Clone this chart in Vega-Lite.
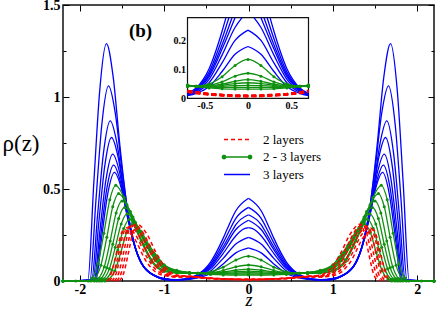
{
"$schema":"https://vega.github.io/schema/vega-lite/v6.json",
"autosize":{"type":"none"},
"padding":{"left":63,"top":5,"right":2,"bottom":29},
"width":371,"height":276,
"background":"white",
"config":{"view":{"stroke":"#111","strokeWidth":1.5},"font":"Liberation Serif","axis":{"grid":false,"domain":false,"tickColor":"black","tickWidth":1,"labelColor":"black","titleColor":"black"}},
"datasets":{
"b":[
{"c":"1L","x":-2.2,"y":0},{"c":"1L","x":-1.905,"y":0.005},{"c":"1L","x":-1.835,"y":0.529},{"c":"1L","x":-1.765,"y":1.032},{"c":"1L","x":-1.685,"y":1.29},{"c":"1L","x":-1.605,"y":1.109},{"c":"1L","x":-1.525,"y":0.735},{"c":"1L","x":-1.435,"y":0.387},{"c":"1L","x":-1.335,"y":0.168},{"c":"1L","x":-1.185,"y":0.052},{"c":"1L","x":-1,"y":0.014},{"c":"1L","x":-0.85,"y":0.007},{"c":"1L","x":-0.7,"y":0.017},{"c":"1L","x":-0.6,"y":0.036},{"c":"1L","x":-0.45,"y":0.103},{"c":"1L","x":-0.3,"y":0.233},{"c":"1L","x":-0.255,"y":0.28},{"c":"1L","x":-0.15,"y":0.382},{"c":"1L","x":0,"y":0.45},
{"c":"1R","x":0,"y":0.45},{"c":"1R","x":0.15,"y":0.382},{"c":"1R","x":0.255,"y":0.28},{"c":"1R","x":0.3,"y":0.233},{"c":"1R","x":0.45,"y":0.103},{"c":"1R","x":0.6,"y":0.036},{"c":"1R","x":0.7,"y":0.017},{"c":"1R","x":0.85,"y":0.007},{"c":"1R","x":1,"y":0.014},{"c":"1R","x":1.185,"y":0.052},{"c":"1R","x":1.335,"y":0.168},{"c":"1R","x":1.435,"y":0.387},{"c":"1R","x":1.525,"y":0.735},{"c":"1R","x":1.605,"y":1.109},{"c":"1R","x":1.685,"y":1.29},{"c":"1R","x":1.765,"y":1.032},{"c":"1R","x":1.835,"y":0.529},{"c":"1R","x":1.905,"y":0.005},{"c":"1R","x":2.2,"y":0},
{"c":"2L","x":-2.2,"y":0},{"c":"2L","x":-1.88,"y":0.005},{"c":"2L","x":-1.81,"y":0.435},{"c":"2L","x":-1.74,"y":0.848},{"c":"2L","x":-1.66,"y":1.06},{"c":"2L","x":-1.58,"y":0.912},{"c":"2L","x":-1.5,"y":0.604},{"c":"2L","x":-1.41,"y":0.318},{"c":"2L","x":-1.31,"y":0.138},{"c":"2L","x":-1.16,"y":0.042},{"c":"2L","x":-1,"y":0.013},{"c":"2L","x":-0.85,"y":0.006},{"c":"2L","x":-0.7,"y":0.015},{"c":"2L","x":-0.6,"y":0.033},{"c":"2L","x":-0.45,"y":0.091},{"c":"2L","x":-0.3,"y":0.207},{"c":"2L","x":-0.221,"y":0.28},{"c":"2L","x":-0.15,"y":0.34},{"c":"2L","x":0,"y":0.4},
{"c":"2R","x":0,"y":0.4},{"c":"2R","x":0.15,"y":0.34},{"c":"2R","x":0.221,"y":0.28},{"c":"2R","x":0.3,"y":0.207},{"c":"2R","x":0.45,"y":0.091},{"c":"2R","x":0.6,"y":0.033},{"c":"2R","x":0.7,"y":0.015},{"c":"2R","x":0.85,"y":0.006},{"c":"2R","x":1,"y":0.013},{"c":"2R","x":1.16,"y":0.042},{"c":"2R","x":1.31,"y":0.138},{"c":"2R","x":1.41,"y":0.318},{"c":"2R","x":1.5,"y":0.604},{"c":"2R","x":1.58,"y":0.912},{"c":"2R","x":1.66,"y":1.06},{"c":"2R","x":1.74,"y":0.848},{"c":"2R","x":1.81,"y":0.435},{"c":"2R","x":1.88,"y":0.005},{"c":"2R","x":2.2,"y":0},
{"c":"3L","x":-2.2,"y":0},{"c":"3L","x":-1.86,"y":0.005},{"c":"3L","x":-1.79,"y":0.357},{"c":"3L","x":-1.72,"y":0.696},{"c":"3L","x":-1.64,"y":0.87},{"c":"3L","x":-1.56,"y":0.748},{"c":"3L","x":-1.48,"y":0.496},{"c":"3L","x":-1.39,"y":0.261},{"c":"3L","x":-1.29,"y":0.113},{"c":"3L","x":-1.14,"y":0.035},{"c":"3L","x":-1,"y":0.011},{"c":"3L","x":-0.85,"y":0.006},{"c":"3L","x":-0.7,"y":0.014},{"c":"3L","x":-0.6,"y":0.03},{"c":"3L","x":-0.45,"y":0.082},{"c":"3L","x":-0.3,"y":0.186},{"c":"3L","x":-0.185,"y":0.28},{"c":"3L","x":-0.15,"y":0.306},{"c":"3L","x":0,"y":0.36},
{"c":"3R","x":0,"y":0.36},{"c":"3R","x":0.15,"y":0.306},{"c":"3R","x":0.185,"y":0.28},{"c":"3R","x":0.3,"y":0.186},{"c":"3R","x":0.45,"y":0.082},{"c":"3R","x":0.6,"y":0.03},{"c":"3R","x":0.7,"y":0.014},{"c":"3R","x":0.85,"y":0.006},{"c":"3R","x":1,"y":0.011},{"c":"3R","x":1.14,"y":0.035},{"c":"3R","x":1.29,"y":0.113},{"c":"3R","x":1.39,"y":0.261},{"c":"3R","x":1.48,"y":0.496},{"c":"3R","x":1.56,"y":0.748},{"c":"3R","x":1.64,"y":0.87},{"c":"3R","x":1.72,"y":0.696},{"c":"3R","x":1.79,"y":0.357},{"c":"3R","x":1.86,"y":0.005},{"c":"3R","x":2.2,"y":0},
{"c":"4L","x":-2.2,"y":0},{"c":"4L","x":-1.845,"y":0.005},{"c":"4L","x":-1.775,"y":0.32},{"c":"4L","x":-1.705,"y":0.624},{"c":"4L","x":-1.625,"y":0.78},{"c":"4L","x":-1.545,"y":0.671},{"c":"4L","x":-1.465,"y":0.445},{"c":"4L","x":-1.375,"y":0.234},{"c":"4L","x":-1.275,"y":0.101},{"c":"4L","x":-1.125,"y":0.031},{"c":"4L","x":-1,"y":0.01},{"c":"4L","x":-0.85,"y":0.006},{"c":"4L","x":-0.7,"y":0.013},{"c":"4L","x":-0.6,"y":0.028},{"c":"4L","x":-0.45,"y":0.075},{"c":"4L","x":-0.3,"y":0.171},{"c":"4L","x":-0.15,"y":0.28},{"c":"4L","x":0,"y":0.33},
{"c":"4R","x":0,"y":0.33},{"c":"4R","x":0.15,"y":0.28},{"c":"4R","x":0.3,"y":0.171},{"c":"4R","x":0.45,"y":0.075},{"c":"4R","x":0.6,"y":0.028},{"c":"4R","x":0.7,"y":0.013},{"c":"4R","x":0.85,"y":0.006},{"c":"4R","x":1,"y":0.01},{"c":"4R","x":1.125,"y":0.031},{"c":"4R","x":1.275,"y":0.101},{"c":"4R","x":1.375,"y":0.234},{"c":"4R","x":1.465,"y":0.445},{"c":"4R","x":1.545,"y":0.671},{"c":"4R","x":1.625,"y":0.78},{"c":"4R","x":1.705,"y":0.624},{"c":"4R","x":1.775,"y":0.32},{"c":"4R","x":1.845,"y":0.005},{"c":"4R","x":2.2,"y":0},
{"c":"5L","x":-2.2,"y":0},{"c":"5L","x":-1.83,"y":0.005},{"c":"5L","x":-1.76,"y":0.283},{"c":"5L","x":-1.69,"y":0.552},{"c":"5L","x":-1.61,"y":0.69},{"c":"5L","x":-1.53,"y":0.593},{"c":"5L","x":-1.45,"y":0.393},{"c":"5L","x":-1.36,"y":0.207},{"c":"5L","x":-1.26,"y":0.09},{"c":"5L","x":-1.11,"y":0.028},{"c":"5L","x":-1,"y":0.009},{"c":"5L","x":-0.85,"y":0.006},{"c":"5L","x":-0.7,"y":0.012},{"c":"5L","x":-0.6,"y":0.025},{"c":"5L","x":-0.45,"y":0.066},{"c":"5L","x":-0.3,"y":0.15},{"c":"5L","x":-0.15,"y":0.246},{"c":"5L","x":-0.069,"y":0.28},{"c":"5L","x":0,"y":0.29},
{"c":"5R","x":0,"y":0.29},{"c":"5R","x":0.069,"y":0.28},{"c":"5R","x":0.15,"y":0.246},{"c":"5R","x":0.3,"y":0.15},{"c":"5R","x":0.45,"y":0.066},{"c":"5R","x":0.6,"y":0.025},{"c":"5R","x":0.7,"y":0.012},{"c":"5R","x":0.85,"y":0.006},{"c":"5R","x":1,"y":0.009},{"c":"5R","x":1.11,"y":0.028},{"c":"5R","x":1.26,"y":0.09},{"c":"5R","x":1.36,"y":0.207},{"c":"5R","x":1.45,"y":0.393},{"c":"5R","x":1.53,"y":0.593},{"c":"5R","x":1.61,"y":0.69},{"c":"5R","x":1.69,"y":0.552},{"c":"5R","x":1.76,"y":0.283},{"c":"5R","x":1.83,"y":0.005},{"c":"5R","x":2.2,"y":0},
{"c":"6L","x":-2.2,"y":0},{"c":"6L","x":-1.82,"y":0.005},{"c":"6L","x":-1.75,"y":0.258},{"c":"6L","x":-1.68,"y":0.504},{"c":"6L","x":-1.6,"y":0.63},{"c":"6L","x":-1.52,"y":0.542},{"c":"6L","x":-1.44,"y":0.359},{"c":"6L","x":-1.35,"y":0.189},{"c":"6L","x":-1.25,"y":0.082},{"c":"6L","x":-1.1,"y":0.025},{"c":"6L","x":-1,"y":0.009},{"c":"6L","x":-0.85,"y":0.006},{"c":"6L","x":-0.7,"y":0.011},{"c":"6L","x":-0.6,"y":0.021},{"c":"6L","x":-0.45,"y":0.054},{"c":"6L","x":-0.3,"y":0.123},{"c":"6L","x":-0.15,"y":0.201},{"c":"6L","x":0,"y":0.237},
{"c":"6R","x":0,"y":0.237},{"c":"6R","x":0.15,"y":0.201},{"c":"6R","x":0.3,"y":0.123},{"c":"6R","x":0.45,"y":0.054},{"c":"6R","x":0.6,"y":0.021},{"c":"6R","x":0.7,"y":0.011},{"c":"6R","x":0.85,"y":0.006},{"c":"6R","x":1,"y":0.009},{"c":"6R","x":1.1,"y":0.025},{"c":"6R","x":1.25,"y":0.082},{"c":"6R","x":1.35,"y":0.189},{"c":"6R","x":1.44,"y":0.359},{"c":"6R","x":1.52,"y":0.542},{"c":"6R","x":1.6,"y":0.63},{"c":"6R","x":1.68,"y":0.504},{"c":"6R","x":1.75,"y":0.258},{"c":"6R","x":1.82,"y":0.005},{"c":"6R","x":2.2,"y":0},
{"c":"7L","x":-2.2,"y":0},{"c":"7L","x":-1.81,"y":0.005},{"c":"7L","x":-1.74,"y":0.242},{"c":"7L","x":-1.67,"y":0.472},{"c":"7L","x":-1.59,"y":0.59},{"c":"7L","x":-1.51,"y":0.507},{"c":"7L","x":-1.43,"y":0.336},{"c":"7L","x":-1.34,"y":0.177},{"c":"7L","x":-1.24,"y":0.077},{"c":"7L","x":-1.09,"y":0.024},{"c":"7L","x":-1,"y":0.008},{"c":"7L","x":-0.85,"y":0.005},{"c":"7L","x":-0.7,"y":0.009},{"c":"7L","x":-0.6,"y":0.017},{"c":"7L","x":-0.45,"y":0.041},{"c":"7L","x":-0.3,"y":0.093},{"c":"7L","x":-0.15,"y":0.153},{"c":"7L","x":0,"y":0.18},
{"c":"7R","x":0,"y":0.18},{"c":"7R","x":0.15,"y":0.153},{"c":"7R","x":0.3,"y":0.093},{"c":"7R","x":0.45,"y":0.041},{"c":"7R","x":0.6,"y":0.017},{"c":"7R","x":0.7,"y":0.009},{"c":"7R","x":0.85,"y":0.005},{"c":"7R","x":1,"y":0.008},{"c":"7R","x":1.09,"y":0.024},{"c":"7R","x":1.24,"y":0.077},{"c":"7R","x":1.34,"y":0.177},{"c":"7R","x":1.43,"y":0.336},{"c":"7R","x":1.51,"y":0.507},{"c":"7R","x":1.59,"y":0.59},{"c":"7R","x":1.67,"y":0.472},{"c":"7R","x":1.74,"y":0.242},{"c":"7R","x":1.81,"y":0.005},{"c":"7R","x":2.2,"y":0}
],
"g":[
{"c":1,"x":-2.2,"y":0},{"c":1,"x":-2.05,"y":0},{"c":1,"x":-1.9,"y":0},{"c":1,"x":-1.855,"y":0.016},{"c":1,"x":-1.785,"y":0.094},{"c":1,"x":-1.715,"y":0.26},{"c":1,"x":-1.645,"y":0.442},{"c":1,"x":-1.575,"y":0.52},{"c":1,"x":-1.475,"y":0.452},{"c":1,"x":-1.375,"y":0.322},{"c":1,"x":-1.275,"y":0.218},{"c":1,"x":-1.15,"y":0.105},{"c":1,"x":-1,"y":0.052},{"c":1,"x":-0.85,"y":0.043},{"c":1,"x":-0.7,"y":0.041},{"c":1,"x":-0.6,"y":0.042},{"c":1,"x":-0.45,"y":0.05},{"c":1,"x":-0.3,"y":0.075},{"c":1,"x":-0.15,"y":0.114},{"c":1,"x":0,"y":0.135},{"c":1,"x":0.15,"y":0.114},{"c":1,"x":0.3,"y":0.075},{"c":1,"x":0.45,"y":0.05},{"c":1,"x":0.6,"y":0.042},{"c":1,"x":0.7,"y":0.041},{"c":1,"x":0.85,"y":0.043},{"c":1,"x":1,"y":0.052},{"c":1,"x":1.15,"y":0.105},{"c":1,"x":1.275,"y":0.218},{"c":1,"x":1.375,"y":0.322},{"c":1,"x":1.475,"y":0.452},{"c":1,"x":1.575,"y":0.52},{"c":1,"x":1.645,"y":0.442},{"c":1,"x":1.715,"y":0.26},{"c":1,"x":1.785,"y":0.094},{"c":1,"x":1.855,"y":0.016},{"c":1,"x":1.9,"y":0},{"c":1,"x":2.05,"y":0},{"c":1,"x":2.2,"y":0},
{"c":2,"x":-2.2,"y":0},{"c":2,"x":-1.87,"y":0},{"c":2,"x":-1.82,"y":0.014},{"c":2,"x":-1.75,"y":0.086},{"c":2,"x":-1.68,"y":0.238},{"c":2,"x":-1.61,"y":0.404},{"c":2,"x":-1.54,"y":0.475},{"c":2,"x":-1.44,"y":0.413},{"c":2,"x":-1.34,"y":0.295},{"c":2,"x":-1.24,"y":0.195},{"c":2,"x":-1.15,"y":0.115},{"c":2,"x":-1,"y":0.058},{"c":2,"x":-0.85,"y":0.045},{"c":2,"x":-0.7,"y":0.042},{"c":2,"x":-0.6,"y":0.041},{"c":2,"x":-0.45,"y":0.045},{"c":2,"x":-0.3,"y":0.057},{"c":2,"x":-0.15,"y":0.077},{"c":2,"x":0,"y":0.087},{"c":2,"x":0.15,"y":0.077},{"c":2,"x":0.3,"y":0.057},{"c":2,"x":0.45,"y":0.045},{"c":2,"x":0.6,"y":0.041},{"c":2,"x":0.7,"y":0.042},{"c":2,"x":0.85,"y":0.045},{"c":2,"x":1,"y":0.058},{"c":2,"x":1.15,"y":0.115},{"c":2,"x":1.24,"y":0.195},{"c":2,"x":1.34,"y":0.295},{"c":2,"x":1.44,"y":0.413},{"c":2,"x":1.54,"y":0.475},{"c":2,"x":1.61,"y":0.404},{"c":2,"x":1.68,"y":0.238},{"c":2,"x":1.75,"y":0.086},{"c":2,"x":1.82,"y":0.014},{"c":2,"x":1.87,"y":0},{"c":2,"x":2.2,"y":0},
{"c":3,"x":-2.2,"y":0},{"c":3,"x":-1.83,"y":0},{"c":3,"x":-1.78,"y":0.013},{"c":3,"x":-1.71,"y":0.078},{"c":3,"x":-1.64,"y":0.218},{"c":3,"x":-1.57,"y":0.37},{"c":3,"x":-1.5,"y":0.435},{"c":3,"x":-1.4,"y":0.378},{"c":3,"x":-1.3,"y":0.27},{"c":3,"x":-1.2,"y":0.183},{"c":3,"x":-1.1,"y":0.11},{"c":3,"x":-1,"y":0.065},{"c":3,"x":-0.85,"y":0.047},{"c":3,"x":-0.7,"y":0.043},{"c":3,"x":-0.6,"y":0.041},{"c":3,"x":-0.45,"y":0.043},{"c":3,"x":-0.3,"y":0.049},{"c":3,"x":-0.15,"y":0.059},{"c":3,"x":0,"y":0.065},{"c":3,"x":0.15,"y":0.059},{"c":3,"x":0.3,"y":0.049},{"c":3,"x":0.45,"y":0.043},{"c":3,"x":0.6,"y":0.041},{"c":3,"x":0.7,"y":0.043},{"c":3,"x":0.85,"y":0.047},{"c":3,"x":1,"y":0.065},{"c":3,"x":1.1,"y":0.11},{"c":3,"x":1.2,"y":0.183},{"c":3,"x":1.3,"y":0.27},{"c":3,"x":1.4,"y":0.378},{"c":3,"x":1.5,"y":0.435},{"c":3,"x":1.57,"y":0.37},{"c":3,"x":1.64,"y":0.218},{"c":3,"x":1.71,"y":0.078},{"c":3,"x":1.78,"y":0.013},{"c":3,"x":1.83,"y":0},{"c":3,"x":2.2,"y":0},
{"c":4,"x":-2.2,"y":0},{"c":4,"x":-1.8,"y":0},{"c":4,"x":-1.75,"y":0.012},{"c":4,"x":-1.68,"y":0.072},{"c":4,"x":-1.61,"y":0.2},{"c":4,"x":-1.54,"y":0.34},{"c":4,"x":-1.47,"y":0.4},{"c":4,"x":-1.37,"y":0.348},{"c":4,"x":-1.27,"y":0.248},{"c":4,"x":-1.17,"y":0.168},{"c":4,"x":-1.1,"y":0.12},{"c":4,"x":-1,"y":0.072},{"c":4,"x":-0.85,"y":0.05},{"c":4,"x":-0.7,"y":0.044},{"c":4,"x":-0.6,"y":0.042},{"c":4,"x":-0.45,"y":0.042},{"c":4,"x":-0.3,"y":0.045},{"c":4,"x":-0.15,"y":0.051},{"c":4,"x":0,"y":0.054},{"c":4,"x":0.15,"y":0.051},{"c":4,"x":0.3,"y":0.045},{"c":4,"x":0.45,"y":0.042},{"c":4,"x":0.6,"y":0.042},{"c":4,"x":0.7,"y":0.044},{"c":4,"x":0.85,"y":0.05},{"c":4,"x":1,"y":0.072},{"c":4,"x":1.1,"y":0.12},{"c":4,"x":1.17,"y":0.168},{"c":4,"x":1.27,"y":0.248},{"c":4,"x":1.37,"y":0.348},{"c":4,"x":1.47,"y":0.4},{"c":4,"x":1.54,"y":0.34},{"c":4,"x":1.61,"y":0.2},{"c":4,"x":1.68,"y":0.072},{"c":4,"x":1.75,"y":0.012},{"c":4,"x":1.8,"y":0},{"c":4,"x":2.2,"y":0},
{"c":5,"x":-2.2,"y":0},{"c":5,"x":-1.77,"y":0},{"c":5,"x":-1.72,"y":0.011},{"c":5,"x":-1.65,"y":0.066},{"c":5,"x":-1.58,"y":0.183},{"c":5,"x":-1.51,"y":0.31},{"c":5,"x":-1.44,"y":0.365},{"c":5,"x":-1.34,"y":0.318},{"c":5,"x":-1.24,"y":0.226},{"c":5,"x":-1.14,"y":0.153},{"c":5,"x":-1,"y":0.078},{"c":5,"x":-0.85,"y":0.053},{"c":5,"x":-0.7,"y":0.045},{"c":5,"x":-0.6,"y":0.042},{"c":5,"x":-0.45,"y":0.041},{"c":5,"x":-0.3,"y":0.042},{"c":5,"x":-0.15,"y":0.044},{"c":5,"x":0,"y":0.045},{"c":5,"x":0.15,"y":0.044},{"c":5,"x":0.3,"y":0.042},{"c":5,"x":0.45,"y":0.041},{"c":5,"x":0.6,"y":0.042},{"c":5,"x":0.7,"y":0.045},{"c":5,"x":0.85,"y":0.053},{"c":5,"x":1,"y":0.078},{"c":5,"x":1.14,"y":0.153},{"c":5,"x":1.24,"y":0.226},{"c":5,"x":1.34,"y":0.318},{"c":5,"x":1.44,"y":0.365},{"c":5,"x":1.51,"y":0.31},{"c":5,"x":1.58,"y":0.183},{"c":5,"x":1.65,"y":0.066},{"c":5,"x":1.72,"y":0.011},{"c":5,"x":1.77,"y":0},{"c":5,"x":2.2,"y":0},
{"c":6,"x":-2.2,"y":0},{"c":6,"x":-1.74,"y":0},{"c":6,"x":-1.69,"y":0.01},{"c":6,"x":-1.62,"y":0.06},{"c":6,"x":-1.55,"y":0.168},{"c":6,"x":-1.48,"y":0.285},{"c":6,"x":-1.41,"y":0.335},{"c":6,"x":-1.31,"y":0.291},{"c":6,"x":-1.21,"y":0.208},{"c":6,"x":-1.11,"y":0.141},{"c":6,"x":-1,"y":0.083},{"c":6,"x":-0.85,"y":0.056},{"c":6,"x":-0.7,"y":0.046},{"c":6,"x":-0.6,"y":0.042},{"c":6,"x":-0.45,"y":0.039},{"c":6,"x":-0.3,"y":0.038},{"c":6,"x":-0.15,"y":0.038},{"c":6,"x":0,"y":0.038},{"c":6,"x":0.15,"y":0.038},{"c":6,"x":0.3,"y":0.038},{"c":6,"x":0.45,"y":0.039},{"c":6,"x":0.6,"y":0.042},{"c":6,"x":0.7,"y":0.046},{"c":6,"x":0.85,"y":0.056},{"c":6,"x":1,"y":0.083},{"c":6,"x":1.11,"y":0.141},{"c":6,"x":1.21,"y":0.208},{"c":6,"x":1.31,"y":0.291},{"c":6,"x":1.41,"y":0.335},{"c":6,"x":1.48,"y":0.285},{"c":6,"x":1.55,"y":0.168},{"c":6,"x":1.62,"y":0.06},{"c":6,"x":1.69,"y":0.01},{"c":6,"x":1.74,"y":0},{"c":6,"x":2.2,"y":0},
{"c":7,"x":-2.2,"y":0},{"c":7,"x":-1.7,"y":0},{"c":7,"x":-1.655,"y":0.009},{"c":7,"x":-1.585,"y":0.056},{"c":7,"x":-1.515,"y":0.155},{"c":7,"x":-1.445,"y":0.264},{"c":7,"x":-1.375,"y":0.31},{"c":7,"x":-1.275,"y":0.27},{"c":7,"x":-1.175,"y":0.192},{"c":7,"x":-1.075,"y":0.13},{"c":7,"x":-1,"y":0.088},{"c":7,"x":-0.85,"y":0.058},{"c":7,"x":-0.7,"y":0.046},{"c":7,"x":-0.6,"y":0.041},{"c":7,"x":-0.45,"y":0.036},{"c":7,"x":-0.3,"y":0.033},{"c":7,"x":-0.15,"y":0.032},{"c":7,"x":0,"y":0.032},{"c":7,"x":0.15,"y":0.032},{"c":7,"x":0.3,"y":0.033},{"c":7,"x":0.45,"y":0.036},{"c":7,"x":0.6,"y":0.041},{"c":7,"x":0.7,"y":0.046},{"c":7,"x":0.85,"y":0.058},{"c":7,"x":1,"y":0.088},{"c":7,"x":1.075,"y":0.13},{"c":7,"x":1.175,"y":0.192},{"c":7,"x":1.275,"y":0.27},{"c":7,"x":1.375,"y":0.31},{"c":7,"x":1.445,"y":0.264},{"c":7,"x":1.515,"y":0.155},{"c":7,"x":1.585,"y":0.056},{"c":7,"x":1.655,"y":0.009},{"c":7,"x":1.7,"y":0},{"c":7,"x":2.2,"y":0}
],
"r":[
{"c":1,"x":-1.53,"y":0},{"c":1,"x":-1.48,"y":0.043},{"c":1,"x":-1.43,"y":0.14},{"c":1,"x":-1.38,"y":0.248},{"c":1,"x":-1.33,"y":0.31},{"c":1,"x":-1.2,"y":0.251},{"c":1,"x":-1.1,"y":0.157},{"c":1,"x":-1,"y":0.082},{"c":1,"x":-0.85,"y":0.032},{"c":1,"x":-0.7,"y":0.026},{"c":1,"x":-0.5,"y":0.017},{"c":1,"x":-0.3,"y":0.012},{"c":1,"x":0,"y":0.009},{"c":1,"x":0.3,"y":0.012},{"c":1,"x":0.5,"y":0.017},{"c":1,"x":0.7,"y":0.026},{"c":1,"x":0.85,"y":0.032},{"c":1,"x":1,"y":0.082},{"c":1,"x":1.1,"y":0.157},{"c":1,"x":1.2,"y":0.251},{"c":1,"x":1.33,"y":0.31},{"c":1,"x":1.38,"y":0.248},{"c":1,"x":1.43,"y":0.14},{"c":1,"x":1.48,"y":0.043},{"c":1,"x":1.53,"y":0},
{"c":2,"x":-1.56,"y":0},{"c":2,"x":-1.51,"y":0.043},{"c":2,"x":-1.46,"y":0.137},{"c":2,"x":-1.41,"y":0.244},{"c":2,"x":-1.36,"y":0.305},{"c":2,"x":-1.26,"y":0.27},{"c":2,"x":-1.2,"y":0.219},{"c":2,"x":-1.1,"y":0.127},{"c":2,"x":-1,"y":0.065},{"c":2,"x":-0.85,"y":0.028},{"c":2,"x":-0.7,"y":0.026},{"c":2,"x":-0.5,"y":0.017},{"c":2,"x":-0.3,"y":0.012},{"c":2,"x":0,"y":0.009},{"c":2,"x":0.3,"y":0.012},{"c":2,"x":0.5,"y":0.017},{"c":2,"x":0.7,"y":0.026},{"c":2,"x":0.85,"y":0.028},{"c":2,"x":1,"y":0.065},{"c":2,"x":1.1,"y":0.127},{"c":2,"x":1.2,"y":0.219},{"c":2,"x":1.26,"y":0.27},{"c":2,"x":1.36,"y":0.305},{"c":2,"x":1.41,"y":0.244},{"c":2,"x":1.46,"y":0.137},{"c":2,"x":1.51,"y":0.043},{"c":2,"x":1.56,"y":0},
{"c":3,"x":-1.59,"y":0},{"c":3,"x":-1.54,"y":0.042},{"c":3,"x":-1.49,"y":0.135},{"c":3,"x":-1.44,"y":0.24},{"c":3,"x":-1.39,"y":0.3},{"c":3,"x":-1.29,"y":0.266},{"c":3,"x":-1.2,"y":0.186},{"c":3,"x":-1.1,"y":0.101},{"c":3,"x":-1,"y":0.052},{"c":3,"x":-0.85,"y":0.026},{"c":3,"x":-0.7,"y":0.025},{"c":3,"x":-0.5,"y":0.016},{"c":3,"x":-0.3,"y":0.011},{"c":3,"x":0,"y":0.008},{"c":3,"x":0.3,"y":0.011},{"c":3,"x":0.5,"y":0.016},{"c":3,"x":0.7,"y":0.025},{"c":3,"x":0.85,"y":0.026},{"c":3,"x":1,"y":0.052},{"c":3,"x":1.1,"y":0.101},{"c":3,"x":1.2,"y":0.186},{"c":3,"x":1.29,"y":0.266},{"c":3,"x":1.39,"y":0.3},{"c":3,"x":1.44,"y":0.24},{"c":3,"x":1.49,"y":0.135},{"c":3,"x":1.54,"y":0.042},{"c":3,"x":1.59,"y":0},
{"c":4,"x":-1.62,"y":0},{"c":4,"x":-1.57,"y":0.041},{"c":4,"x":-1.52,"y":0.133},{"c":4,"x":-1.47,"y":0.236},{"c":4,"x":-1.42,"y":0.295},{"c":4,"x":-1.32,"y":0.261},{"c":4,"x":-1.2,"y":0.154},{"c":4,"x":-1.1,"y":0.08},{"c":4,"x":-1,"y":0.042},{"c":4,"x":-0.85,"y":0.024},{"c":4,"x":-0.7,"y":0.024},{"c":4,"x":-0.5,"y":0.016},{"c":4,"x":-0.3,"y":0.011},{"c":4,"x":0,"y":0.008},{"c":4,"x":0.3,"y":0.011},{"c":4,"x":0.5,"y":0.016},{"c":4,"x":0.7,"y":0.024},{"c":4,"x":0.85,"y":0.024},{"c":4,"x":1,"y":0.042},{"c":4,"x":1.1,"y":0.08},{"c":4,"x":1.2,"y":0.154},{"c":4,"x":1.32,"y":0.261},{"c":4,"x":1.42,"y":0.295},{"c":4,"x":1.47,"y":0.236},{"c":4,"x":1.52,"y":0.133},{"c":4,"x":1.57,"y":0.041},{"c":4,"x":1.62,"y":0},
{"c":5,"x":-1.65,"y":0},{"c":5,"x":-1.6,"y":0.041},{"c":5,"x":-1.55,"y":0.13},{"c":5,"x":-1.5,"y":0.232},{"c":5,"x":-1.45,"y":0.29},{"c":5,"x":-1.35,"y":0.257},{"c":5,"x":-1.2,"y":0.125},{"c":5,"x":-1.1,"y":0.063},{"c":5,"x":-1,"y":0.035},{"c":5,"x":-0.85,"y":0.023},{"c":5,"x":-0.7,"y":0.023},{"c":5,"x":-0.5,"y":0.015},{"c":5,"x":-0.3,"y":0.01},{"c":5,"x":0,"y":0.007},{"c":5,"x":0.3,"y":0.01},{"c":5,"x":0.5,"y":0.015},{"c":5,"x":0.7,"y":0.023},{"c":5,"x":0.85,"y":0.023},{"c":5,"x":1,"y":0.035},{"c":5,"x":1.1,"y":0.063},{"c":5,"x":1.2,"y":0.125},{"c":5,"x":1.35,"y":0.257},{"c":5,"x":1.45,"y":0.29},{"c":5,"x":1.5,"y":0.232},{"c":5,"x":1.55,"y":0.13},{"c":5,"x":1.6,"y":0.041},{"c":5,"x":1.65,"y":0},
{"c":6,"x":-1.68,"y":0},{"c":6,"x":-1.63,"y":0.039},{"c":6,"x":-1.58,"y":0.126},{"c":6,"x":-1.53,"y":0.224},{"c":6,"x":-1.48,"y":0.28},{"c":6,"x":-1.38,"y":0.248},{"c":6,"x":-1.2,"y":0.098},{"c":6,"x":-1.1,"y":0.048},{"c":6,"x":-1,"y":0.029},{"c":6,"x":-0.85,"y":0.022},{"c":6,"x":-0.7,"y":0.022},{"c":6,"x":-0.5,"y":0.014},{"c":6,"x":-0.3,"y":0.01},{"c":6,"x":0,"y":0.007},{"c":6,"x":0.3,"y":0.01},{"c":6,"x":0.5,"y":0.014},{"c":6,"x":0.7,"y":0.022},{"c":6,"x":0.85,"y":0.022},{"c":6,"x":1,"y":0.029},{"c":6,"x":1.1,"y":0.048},{"c":6,"x":1.2,"y":0.098},{"c":6,"x":1.38,"y":0.248},{"c":6,"x":1.48,"y":0.28},{"c":6,"x":1.53,"y":0.224},{"c":6,"x":1.58,"y":0.126},{"c":6,"x":1.63,"y":0.039},{"c":6,"x":1.68,"y":0}
]
},
"layer":[
{"layer":[
{"data":{"name":"b"},"mark":{"type":"line","strokeWidth":1.3,"interpolate":"monotone"},
"encoding":{
"x":{"field":"x","type":"quantitative","scale":{"domain":[-2.2,2.2],"nice":false,"zero":false},
"axis":{"orient":"bottom","values":[-2,-1.5,-1,-0.5,0,0.5,1,1.5,2],"labelExpr":"datum.value % 1 == 0 ? '' + datum.value : ''","tickSize":{"condition":{"test":"datum.value % 1 != 0","value":-3},"value":-6},"labelPadding":7,"labelFont":"Liberation Serif","labelFontWeight":"bold","labelFontSize":14,"title":"z","titleFont":"Liberation Serif","titleFontStyle":"italic","titleFontWeight":"normal","titleFontSize":18,"titleX":185.5,"titleY":19,"titleBaseline":"middle","titleAlign":"center"}},
"y":{"field":"y","type":"quantitative","scale":{"domain":[0,1.5],"nice":false},
"axis":{"orient":"left","values":[0,0.25,0.5,0.75,1,1.25,1.5],"labelExpr":"datum.value % 0.5 == 0 ? '' + datum.value : ''","tickSize":{"condition":{"test":"datum.value % 0.5 != 0","value":-3},"value":-6},"labelPadding":9,"labelFont":"Liberation Serif","labelFontWeight":"bold","labelFontSize":14,"title":"ρ(z)","titleAngle":0,"titleFont":"Liberation Serif","titleFontWeight":"normal","titleFontSize":23,"titleAlign":"left","titleBaseline":"middle","titleX":-61,"titleY":138}},
"detail":{"field":"c"},
"color":{"datum":"3 layers","scale":{"domain":["2 layers","2 - 3 layers","3 layers"],"range":["#ff0000","#109010","#0000ff"]},
"legend":{"orient":"none","legendX":166.5,"legendY":127,"title":null,"padding":0,"symbolType":"M-2,0H2","symbolSize":169,"symbolStrokeWidth":1.5,"labelFont":"Liberation Serif","labelFontSize":13,"labelColor":"black","labelOffset":18.5,"rowPadding":2.5,
"encode":{"symbols":{"update":{
"strokeDash":{"signal":"datum.value == '2 layers' ? [4, 3] : [1, 0]"},
"shape":{"signal":"datum.value == '2 - 3 layers' ? 'M-2,0H2M-2.25,0a0.25,0.25 0 1,0 0.5,0a0.25,0.25 0 1,0 -0.5,0M1.75,0a0.25,0.25 0 1,0 0.5,0a0.25,0.25 0 1,0 -0.5,0' : 'M-2,0H2'"},
"fill":{"signal":"datum.value == '2 - 3 layers' ? '#109010' : 'transparent'"}}}}}}}},
{"data":{"name":"g"},"mark":{"type":"line","strokeWidth":1.3,"interpolate":"monotone","point":{"filled":true,"size":9}},
"encoding":{"x":{"field":"x","type":"quantitative","axis":null},"y":{"field":"y","type":"quantitative","axis":null},"detail":{"field":"c"},"color":{"datum":"2 - 3 layers"}}},
{"data":{"name":"r"},"mark":{"type":"line","strokeWidth":1.5,"strokeDash":[4,3],"interpolate":"monotone"},
"encoding":{"x":{"field":"x","type":"quantitative","axis":null},"y":{"field":"y","type":"quantitative","axis":null},"detail":{"field":"c"},"color":{"datum":"2 layers"}}},
{"data":{"values":[{"t":"(b)"}]},"mark":{"type":"text","font":"Liberation Serif","fontSize":19,"fontWeight":"bold","color":"black","align":"center","baseline":"middle"},
"encoding":{"x":{"datum":-1.28,"type":"quantitative","axis":{"orient":"top","values":[-2,-1.5,-1,-0.5,0,0.5,1,1.5,2],"labels":false,"title":null,"tickSize":{"condition":{"test":"datum.value % 1 != 0","value":-3},"value":-6}}},
"y":{"datum":1.36,"type":"quantitative","axis":{"orient":"right","values":[0,0.25,0.5,0.75,1,1.25,1.5],"labels":false,"title":null,"tickSize":{"condition":{"test":"datum.value % 0.5 != 0","value":-3},"value":-6}}},
"text":{"field":"t"}}}
],
"resolve":{"axis":{"x":"independent","y":"independent"}}},
{"layer":[
{"data":{"values":[{"t":1}]},"mark":{"type":"rect","fill":"white","stroke":"#111","strokeWidth":1.2},
"encoding":{"x":{"datum":-0.7,"type":"quantitative","scale":{"domain":[-0.7,0.7],"range":[124.5,245.5],"nice":false,"zero":false},
"axis":{"orient":"bottom","offset":-182.7,"values":[-0.5,-0.25,0,0.25,0.5],"labelExpr":"datum.value % 0.5 == 0 ? '' + datum.value : ''","tickSize":{"condition":{"test":"datum.value % 0.5 != 0","value":-2},"value":-4},"labelPadding":6,"labelFont":"Liberation Serif","labelFontWeight":"bold","labelFontSize":10,"labelFlush":false,"title":null}},
"x2":{"datum":0.7},
"y":{"datum":0,"type":"quantitative","scale":{"domain":[0,0.28],"range":[93.3,12.7],"nice":false},
"axis":{"orient":"left","offset":-124.5,"values":[0,0.05,0.1,0.15,0.2,0.25],"labelExpr":"abs(datum.value*10 - round(datum.value*10)) < 0.001 ? '' + datum.value : ''","tickSize":{"condition":{"test":"abs(datum.value*10 - round(datum.value*10)) > 0.001","value":-2},"value":-4},"labelPadding":6,"labelFont":"Liberation Serif","labelFontWeight":"bold","labelFontSize":10,"title":null}},
"y2":{"datum":0.28}}},
{"data":{"name":"b"},"transform":[{"filter":"datum.y <= 0.2801 && abs(datum.x) <= 0.7001"}],"mark":{"type":"line","strokeWidth":1.3,"color":"#0000ff","interpolate":"monotone"},
"encoding":{"x":{"field":"x","type":"quantitative","axis":{"orient":"top","offset":-12.7,"values":[-0.5,-0.25,0,0.25,0.5],"labels":false,"title":null,"tickSize":{"condition":{"test":"datum.value % 0.5 != 0","value":-2},"value":-4}}},
"y":{"field":"y","type":"quantitative","axis":{"orient":"right","offset":-125.5,"values":[0,0.05,0.1,0.15,0.2,0.25],"labels":false,"title":null,"tickSize":{"condition":{"test":"abs(datum.value*10 - round(datum.value*10)) > 0.001","value":-2},"value":-4}}},
"detail":{"field":"c"}}},
{"data":{"name":"g"},"transform":[{"filter":"abs(datum.x) <= 0.7001"}],"mark":{"type":"line","strokeWidth":1.3,"color":"#109010","interpolate":"monotone","point":{"filled":true,"size":9,"color":"#109010"}},
"encoding":{"x":{"field":"x","type":"quantitative","axis":null},"y":{"field":"y","type":"quantitative","axis":null},"detail":{"field":"c"}}},
{"data":{"name":"r"},"transform":[{"filter":"abs(datum.x) <= 0.7001"}],"mark":{"type":"line","strokeWidth":2.2,"color":"#ff0000","strokeDash":[5,3],"interpolate":"monotone"},
"encoding":{"x":{"field":"x","type":"quantitative","axis":null},"y":{"field":"y","type":"quantitative","axis":null},"detail":{"field":"c"}}}
],
"resolve":{"axis":{"x":"independent","y":"independent"}}}
],
"resolve":{"scale":{"x":"independent","y":"independent"}}
}
